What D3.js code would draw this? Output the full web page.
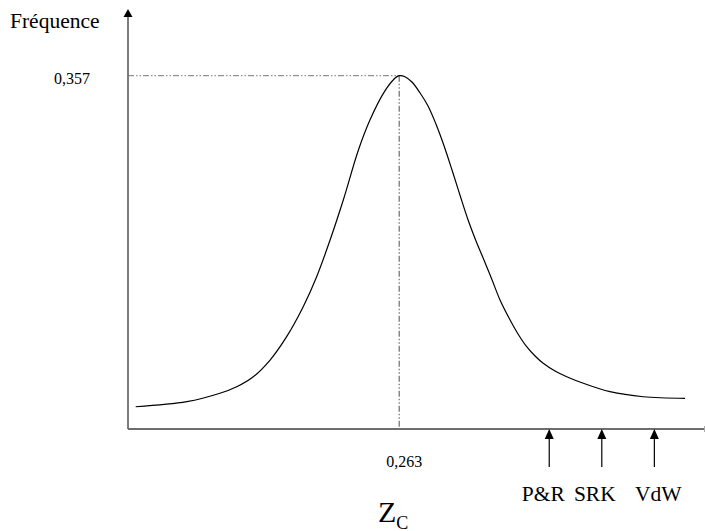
<!DOCTYPE html>
<html>
<head>
<meta charset="utf-8">
<script src="https://cdn.jsdelivr.net/npm/d3@7"></script>
<style>
  body { margin: 0; background: #fff; }
</style>
</head>
<body>
<div id="chart"></div>
<script>
// Zc values along the curve and their frequency
var zcValues = [0.1532, 0.1745, 0.1883, 0.1953, 0.2022, 0.2092, 0.2161, 0.2230,
                0.2286, 0.2342, 0.2397, 0.2460, 0.2508, 0.2564, 0.2605, 0.2629,
                0.2654, 0.2683, 0.2717, 0.2750, 0.2783, 0.2817, 0.2850, 0.2883,
                0.2917, 0.2950, 0.2983, 0.3017, 0.3050, 0.3092, 0.3125, 0.3161,
                0.3196, 0.3230, 0.3279, 0.3328, 0.3397, 0.3508, 0.3647, 0.3821];
var freqValues = [0.0225, 0.0276, 0.0361, 0.0427, 0.0528, 0.0697, 0.0933, 0.1236,
                  0.1539, 0.1910, 0.2314, 0.2819, 0.3122, 0.3392, 0.3527, 0.3570,
                  0.3560, 0.3506, 0.3395, 0.3264, 0.3082, 0.2860, 0.2617, 0.2365,
                  0.2112, 0.1900, 0.1708, 0.1506, 0.1304, 0.1101, 0.0960, 0.0832,
                  0.0738, 0.0664, 0.0586, 0.0528, 0.0462, 0.0377, 0.0326, 0.0310];

// peak of the distribution
var peakZc = 0.263, peakFreq = 0.357;
var peakLabels = ["0,263", "0,357"];

// equations of state markers on the Zc axis
var eosNames = ["P&R", "SRK", "VdW"];
var eosZc = [0.3255, 0.3474, 0.3693];

var width = 705, height = 531;
var serif = "Liberation Serif";

var x = d3.scaleLinear().domain([0.15, 0.3904]).range([128, 705]);
var y = d3.scaleLinear().domain([0, 0.357]).range([429, 75.7]);

var svg = d3.select("#chart").append("svg")
  .attr("width", width)
  .attr("height", height);

var axisColor = "#6e6e6e";
var dash = "6,2,1.5,2,1.5,2";

// dash-dot guides to the peak
svg.append("line")
  .attr("x1", x.range()[0]).attr("x2", x(peakZc))
  .attr("y1", y(peakFreq)).attr("y2", y(peakFreq))
  .attr("stroke", "#777").attr("stroke-width", 1)
  .attr("stroke-dasharray", dash);

svg.append("line")
  .attr("x1", x(peakZc)).attr("x2", x(peakZc))
  .attr("y1", y(peakFreq)).attr("y2", y(0))
  .attr("stroke", "#777").attr("stroke-width", 1.3)
  .attr("stroke-dasharray", dash);

// axes
svg.append("line")
  .attr("x1", x.range()[0]).attr("x2", x.range()[1])
  .attr("y1", y(0)).attr("y2", y(0))
  .attr("stroke", axisColor).attr("stroke-width", 1.8);

svg.append("line")
  .attr("x1", x.range()[1] - 0.5).attr("x2", x.range()[1] - 0.5)
  .attr("y1", y(0) - 3).attr("y2", y(0) + 3)
  .attr("stroke", "#aaa").attr("stroke-width", 1);

svg.append("line")
  .attr("x1", x.range()[0]).attr("x2", x.range()[0])
  .attr("y1", y(0)).attr("y2", 17)
  .attr("stroke", axisColor).attr("stroke-width", 1.8);

svg.append("path")
  .attr("d", "M" + (x.range()[0] - 4.5) + ",17L" + x.range()[0] + ",9L" + (x.range()[0] + 4.5) + ",17Z")
  .attr("fill", "#000");

// curve
var pts = zcValues.map(function(d, i) { return [d, freqValues[i]]; });
svg.append("path")
  .datum(pts)
  .attr("fill", "none")
  .attr("stroke", "#000")
  .attr("stroke-width", 1.2)
  .attr("d", d3.line()
    .x(function(d) { return x(d[0]); })
    .y(function(d) { return y(d[1]); })
    .curve(d3.curveCatmullRom));

// labels
svg.append("text")
  .attr("x", 10).attr("y", 28)
  .style("font-family", serif)
  .style("font-size", "21.5px")
  .text("Fréquence");

svg.append("text")
  .attr("x", 90).attr("y", y(peakFreq) + 8)
  .attr("text-anchor", "end")
  .style("font-family", serif)
  .style("font-size", "16px")
  .text(peakLabels[1]);

svg.append("text")
  .attr("x", x(peakZc) + 5).attr("y", 467)
  .attr("text-anchor", "middle")
  .style("font-family", serif)
  .style("font-size", "16px")
  .text(peakLabels[0]);

// EOS arrows (labels sit a little off their arrows, as in the original)
var labelShift = [-6, -7, 4];
var eos = svg.selectAll(".eos").data(eosNames)
  .enter().append("g")
    .attr("class", "eos")
    .attr("transform", function(d, i) { return "translate(" + x(eosZc[i]) + ",0)"; });

eos.append("line")
  .attr("x1", 0).attr("x2", 0)
  .attr("y1", 467).attr("y2", y(0) + 9)
  .attr("stroke", "#000").attr("stroke-width", 1.2);

eos.append("path")
  .attr("d", "M-4.5," + (y(0) + 10) + "L0," + y(0) + "L4.5," + (y(0) + 10) + "Z")
  .attr("fill", "#000");

eos.append("text")
  .attr("x", function(d, i) { return labelShift[i]; })
  .attr("y", 501)
  .attr("text-anchor", "middle")
  .style("font-family", serif)
  .style("font-size", "21.5px")
  .text(function(d) { return d; });

// axis title
var zt = svg.append("text")
  .attr("x", 378).attr("y", 522)
  .style("font-family", serif)
  .style("font-size", "30px")
  .text("Z");
zt.append("tspan")
  .style("font-size", "18px")
  .attr("dy", 6.5)
  .text("C");
</script>
</body>
</html>
